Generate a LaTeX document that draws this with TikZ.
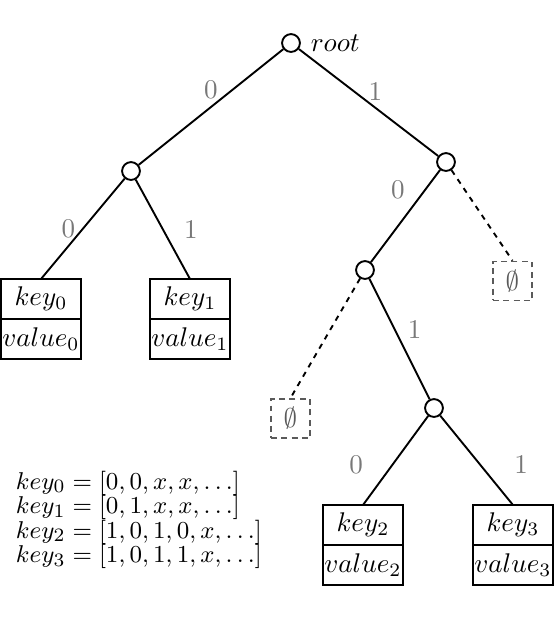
\documentclass[tikz,border=0pt]{standalone}
\usepackage{amsmath, amssymb}
\usepackage{tikz}
\usetikzlibrary{positioning}
\definecolor{bitgray}{RGB}{120,120,120}
\definecolor{nullgray}{RGB}{90,90,90}

\begin{document}
\begin{tikzpicture}[x=0.37pt, y=-0.37pt, line width=0.7pt,
    trienode/.style={circle, draw, fill=white, minimum size=6.6pt, inner sep=0pt},
    keybox/.style={rectangle, draw, minimum width=29.6pt, minimum height=14.8pt, inner sep=0pt, outer sep=0pt},
    nullbox/.style={rectangle, draw=nullgray, dash pattern=on 2.2pt off 1.6pt, minimum size=14.4pt, inner sep=0pt, text=nullgray},
    bit/.style={text=bitgray, inner sep=2.5pt},
    missing/.style={dash pattern=on 2pt off 2pt},
    keyline/.style={anchor=base west, inner sep=0pt, font=\fontsize{9.5}{11}\selectfont}]
  \useasboundingbox (0,0) rectangle (554,630);

  % Inner nodes of the trie
  \node[trienode, label={right:$root$}] (root) at (291,43) {};
  \node[trienode] (n0) at (131,171) {};
  \node[trienode] (n1) at (446,162) {};
  \node[trienode] (n10) at (365,270) {};
  \node[trienode] (n101) at (434,408) {};

  % Leaves: key over value
  \node[keybox] (k0) at (41,299) {$key_0$};
  \node[keybox, below=0pt of k0] (v0) {$value_0$};
  \node[keybox] (k1) at (190,299) {$key_1$};
  \node[keybox, below=0pt of k1] (v1) {$value_1$};
  \node[keybox] (k2) at (363,525) {$key_2$};
  \node[keybox, below=0pt of k2] (v2) {$value_2$};
  \node[keybox] (k3) at (513,525) {$key_3$};
  \node[keybox, below=0pt of k3] (v3) {$value_3$};

  % Empty branches
  \node[nullbox] (e11) at (512.5,281) {$\emptyset$};
  \node[nullbox] (e100) at (290.5,418.5) {$\emptyset$};

  % Edges with their bits
  \draw (root) -- node[bit, above] {0} (n0);
  \draw (root) -- node[bit, pos=.55, above] {1} (n1);
  \draw (n0) -- node[bit, left] {0} (k0.north);
  \draw (n0) -- node[bit, right=5pt] {1} (k1.north);
  \draw (n1) -- node[bit, pos=.4, above left] {0} (n10);
  \draw[missing] (n1) -- (e11.north);
  \draw (n10) -- node[bit, pos=.42, right=2pt] {1} (n101);
  \draw[missing] (n10) -- (e100.north);
  \draw (n101) -- node[bit, pos=.55, left=8pt] {0} (k2.north);
  \draw (n101) -- node[bit, pos=.55, right=9.8pt] {1} (k3.north);

  % Keys as bit sequences
  \node[keyline] (key0) at (15,489) {$key_0 = [0, 0, x, x, \ldots]$};
  \node[keyline] (key1) at (15,513.5) {$key_1 = [0, 1, x, x, \ldots]$};
  \node[keyline] (key2) at (15,538) {$key_2 = [1, 0, 1, 0, x, \ldots]$};
  \node[keyline] (key3) at (15,562.5) {$key_3 = [1, 0, 1, 1, x, \ldots]$};
\end{tikzpicture}
\end{document}
